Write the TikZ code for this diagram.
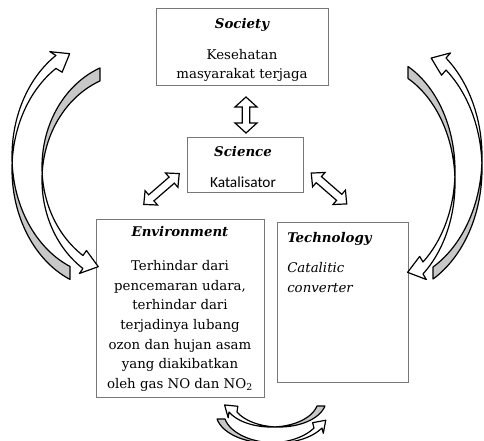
\documentclass[tikz,border=0pt]{standalone}
\usepackage{fontspec}
\setmainfont{DejaVu Serif}
\newfontfamily\calfont{Carlito}
\definecolor{boxgray}{RGB}{120,120,120}
\definecolor{backgray}{RGB}{200,200,200}
\tikzset{
  box/.style={draw=boxgray, line width=0.75pt, inner sep=0pt, fill=white},
  txt/.style={anchor=base, inner sep=0pt, font=\fontsize{10}{12}\selectfont},
  ttl/.style={anchor=base, inner sep=0pt, font=\fontsize{10}{12}\selectfont\bfseries\itshape},
  blockarrow/.style={draw=black, fill=white, line width=0.9pt, line join=miter},
  crfront/.style={draw=black, fill=white, line width=0.9pt, line join=round},
  crback/.style={draw=black, fill=backgray, line width=0.9pt, line join=round},
}
% curved ribbon arrow: #1 a, #2 b, #3 d, #4 t_head, #5 t_tail, #6 head length, #7 head half width, #8 head direction
\newcommand\crvarrow[8]{%
  \pgfmathsetmacro\crA{#1}%
  \pgfmathsetmacro\crB{#2}%
  \pgfmathsetmacro\crD{#3/2}%
  \pgfmathsetmacro\crE{asin(\crD/\crB)}%
  \pgfmathsetmacro\crS{180+\crE}%
  \pgfmathsetmacro\crF{180-\crE}%
  \pgfmathsetmacro\crMx{\crA*cos(#4)}%
  \pgfmathsetmacro\crMy{\crB*sin(#4)}%
  \pgfmathsetmacro\crUx{cos(#8)}%
  \pgfmathsetmacro\crUy{sin(#8)}%
  \path[crfront] plot[domain=\crS:#4,samples=50] ({\crA*cos(\x)},{\crD+\crB*sin(\x)})
    -- ({\crMx-#7*\crUy},{\crMy+#7*\crUx})
    -- ({\crMx+#6*\crUx},{\crMy+#6*\crUy})
    -- ({\crMx+#7*\crUy},{\crMy-#7*\crUx})
    -- plot[domain=#4:\crF,samples=50] ({\crA*cos(\x)},{-\crD+\crB*sin(\x)}) -- cycle;
  \path[crback] plot[domain=\crF:#5,samples=50] ({\crA*cos(\x)},{-\crD+\crB*sin(\x)})
    -- plot[domain=#5:\crS,samples=50] ({\crA*cos(\x)},{\crD+\crB*sin(\x)}) -- cycle;
}
% straight double block arrow: #1 centre, #2 angle, #3 length, #4 shaft half, #5 head half, #6 head length
\newcommand\blockdbl[6]{%
  \begin{scope}[shift={#1},rotate=#2]
    \draw[blockarrow] ({-#3/2},0) -- ({-#3/2+#6},#5) -- ({-#3/2+#6},#4) -- ({#3/2-#6},#4)
      -- ({#3/2-#6},#5) -- ({#3/2},0) -- ({#3/2-#6},-#5) -- ({#3/2-#6},-#4)
      -- ({-#3/2+#6},-#4) -- ({-#3/2+#6},-#5) -- cycle;
  \end{scope}}
\begin{document}
\begin{tikzpicture}[x=0.75pt,y=-0.75pt]
\fill[white] (0,0) rectangle (484,441);
\useasboundingbox (0,0) rectangle (484,441);

% Society
\node[box, minimum width=129pt, minimum height=57.75pt] (soc) at (242,47.5) {};
\node[ttl] (socT) at (242,28.5) {Society};
\node[txt] (soc1) at (242,60) {Kesehatan};
\node[txt] (soc2) at (242,79) {masyarakat terjaga};

% Science
\node[box, minimum width=87pt, minimum height=41.25pt] (sci) at (245,165.5) {};
\node[ttl] (sciT) at (243,157) {Science};
\node[txt, font=\calfont\fontsize{11.5}{13}\selectfont] (sci1) at (243,188) {Katalisator};

% Environment
\node[box, minimum width=126pt, minimum height=132.75pt] (env) at (180,308.5) {};
\node[ttl] (envT) at (180,237) {Environment};
\node[txt] (env1) at (180,270.5) {Terhindar dari};
\node[txt] (env2) at (180,290.2) {pencemaran udara,};
\node[txt] (env3) at (180,309.8) {terhindar dari};
\node[txt] (env4) at (180,329.5) {terjadinya lubang};
\node[txt] (env5) at (180,349.2) {ozon dan hujan asam};
\node[txt] (env6) at (180,368.8) {yang diakibatkan};
\node[txt] (env7) at (180,388.5) {oleh gas NO dan NO\textsubscript{2}};

% Technology
\node[box, minimum width=98.25pt, minimum height=119.25pt] (tec) at (342.5,302.5) {};
\node[ttl, anchor=base west] (tecT) at (287,242.5) {Technology};
\node[txt, anchor=base west, font=\fontsize{10}{12}\selectfont\itshape] (tec1) at (287,272.5) {Catalitic};
\node[txt, anchor=base west, font=\fontsize{10}{12}\selectfont\itshape] (tec2) at (287,292) {converter};

% straight double arrows
\coordinate (arrSS) at (246,115);
\coordinate (arrSE) at (161.5,189);
\coordinate (arrST) at (329,188.5);
\blockdbl{(arrSS)}{90}{36}{3.8}{11}{10}
\blockdbl{(arrSE)}{41}{47}{4}{9.5}{10}
\blockdbl{(arrST)}{-41}{47}{4}{9.5}{10}

% left pair of curved arrows
\begin{scope}[shift={(107,162.8)}, yscale=-1]
  \crvarrow{95}{119.6}{13}{122.5}{247.1}{16}{12}{31}
\end{scope}
\begin{scope}[shift={(134,173.4)}]
  \crvarrow{92}{106.5}{13}{123.7}{248.3}{16}{12}{17}
\end{scope}

% right pair of curved arrows
\begin{scope}[shift={(387,162.8)}, xscale=-1, yscale=-1]
  \crvarrow{95}{126}{12}{128.4}{241}{16}{12}{22}
\end{scope}
\begin{scope}[shift={(367,176.9)}, xscale=-1]
  \crvarrow{88}{118}{12}{129.5}{242.2}{16}{12}{16}
\end{scope}

% bottom pair of curved arrows
\begin{scope}[cm={0,1,1,0,(275.1,400)}]
  \crvarrow{27}{47}{8}{116.4}{257.2}{11}{7.5}{50}
\end{scope}
\begin{scope}[cm={0,1,-1,0,(272.5,413)}]
  \crvarrow{30}{52.5}{8}{120}{258.5}{11}{7.5}{45}
\end{scope}
\end{tikzpicture}
\end{document}
